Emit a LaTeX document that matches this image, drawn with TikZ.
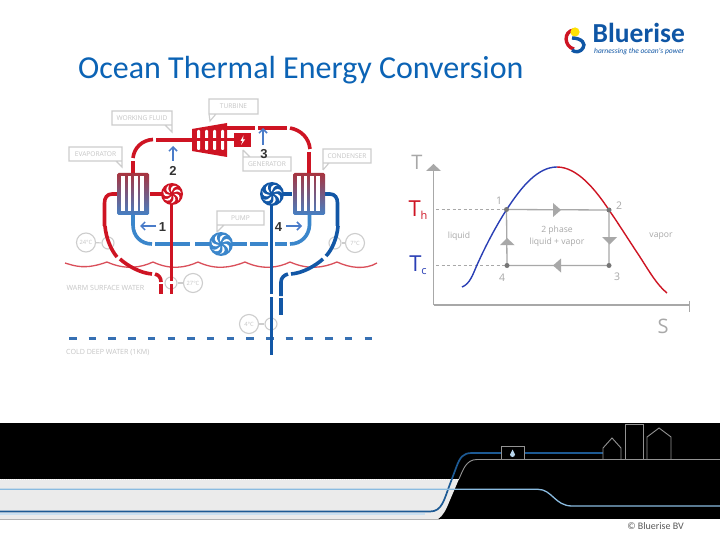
\documentclass[tikz,border=0pt]{standalone}
\usepackage{fontspec}
\setmainfont{Open Sans}
\newfontfamily\titlefont{Carlito}
\newfontfamily\numfont{Liberation Sans}
\usetikzlibrary{arrows.meta,calc}
\definecolor{pipered}{HTML}{CE1423}
\definecolor{pipeblue}{HTML}{1257A6}
\definecolor{lightpipe}{HTML}{3B86CB}
\definecolor{arrowblue}{HTML}{4A7CC9}
\definecolor{calloutgray}{HTML}{CDCDCD}
\definecolor{cyclegray}{HTML}{A8A8A8}
\definecolor{titleblue}{HTML}{0B63B5}
\definecolor{logoblue}{HTML}{0F56A5}
\definecolor{banblue}{HTML}{8ABBE0}
\definecolor{bandark}{HTML}{1D5A94}
\definecolor{curveblue}{HTML}{2A3FB5}
\definecolor{hxtop}{HTML}{A8343F}
\definecolor{hxbot}{HTML}{4580C4}
\tikzset{
  redpipe/.style={draw=pipered,line width=3.6pt},
  bluepipe/.style={draw=pipeblue,line width=3.6pt},
  lightloop/.style={draw=lightpipe,line width=3.6pt},
  callout/.style={draw=calloutgray,line width=1.1pt,fill=white},
  calltext/.style={text=calloutgray!90!gray,font=\fontsize{6.6}{7}\selectfont,inner sep=0pt},
  gauge/.style={circle,draw=calloutgray,line width=1.1pt,minimum size=19pt,inner sep=0pt,text=calloutgray!90!gray,font=\fontsize{5.8}{6}\selectfont},
  tap/.style={circle,draw=calloutgray,line width=1.1pt,minimum size=12pt,inner sep=0pt},
  gaugelink/.style={draw=calloutgray,line width=1.1pt},
  stepnum/.style={text=black!80,font=\numfont\bfseries\fontsize{13}{13}\selectfont,inner sep=0pt},
  flow/.style={draw=arrowblue,line width=1.5pt,-{Straight Barb[length=4pt,width=8pt]}},
  cycle line/.style={draw=cyclegray,line width=1.3pt},
  cycle dash/.style={draw=cyclegray,line width=0.8pt,dash pattern=on 3pt off 2.5pt},
  cyclemark/.style={fill=cyclegray!70!black,circle,inner sep=0pt,minimum size=5pt},
  tslabel/.style={text=cyclegray,font=\fontsize{8.6}{9}\selectfont,inner sep=0pt},
  tsnum/.style={text=cyclegray,font=\fontsize{10.5}{11}\selectfont,inner sep=0pt},
  tsaxis/.style={text=cyclegray,font=\fontsize{20}{20}\selectfont,inner sep=0pt},
  bldg/.style={draw=gray!85,line width=0.9pt},
}
\newcommand{\hxbox}[2]{% x-left, y-top
  \shade[rounded corners=1.5pt,top color=hxtop,bottom color=hxbot] (#1,#2) rectangle ++(32,42);
  \foreach \k in {0,1,2,3}{\fill[white] ({#1+4.4+\k*6.3},{#2+3.5}) rectangle ++(3.6,35);}
}
\newcommand{\pumpblades}[2]{% centre name, radius
  \foreach \a in {0,51.4,102.8,154.2,205.6,257,308.4}{
    \fill[white] ($(#1)+(\a:#2*0.2)$) .. controls ($(#1)+(\a+25:#2*0.5)$) and ($(#1)+(\a+25:#2*0.7)$) .. ($(#1)+(\a+45:#2*0.85)$) .. controls ($(#1)+(\a+10:#2*0.85)$) and ($(#1)+(\a-8:#2*0.55)$) .. cycle;
  }
}
\begin{document}
\begin{tikzpicture}[x=1pt,y=-1pt]
\useasboundingbox (0,0) rectangle (720,540);
\fill[white] (0,0) rectangle (720,540);
% title and logo
\node[anchor=base west,inner sep=0pt,text=titleblue,font=\titlefont\fontsize{32}{33}\selectfont] (title) at (78,79) {Ocean Thermal Energy Conversion};
\draw[pipered,line width=3.4pt] (574,30) .. controls (563,31) and (564,47) .. (574,49);
\fill[yellow!85!orange] (575,32) circle (4.6);
\draw[logoblue,line width=3.4pt] (572,38) .. controls (582,38) and (586,44) .. (583,48) .. controls (581,52) and (575,53) .. (572,50);
\node[anchor=base west,inner sep=0pt,text=logoblue,font=\titlefont\bfseries\fontsize{27.5}{28}\selectfont] (logoname) at (592.5,43) {Bluerise};
\node[anchor=base west,inner sep=0pt,text=logoblue,font=\titlefont\itshape\fontsize{7.5}{8}\selectfont] (logotag) at (594,54) {harnessing the ocean's power};
% sea surface and deep water
\draw[pipered!75!white,line width=1.3pt] (65,263) .. controls (75,266) and (85,270) .. (107,262) .. controls (125,270) and (140,268) .. (153,262) .. controls (170,270) and (185,268) .. (198,262) .. controls (215,270) and (230,268) .. (245,262) .. controls (262,270) and (278,268) .. (290,262) .. controls (308,270) and (323,268) .. (337,262) .. controls (350,268) and (365,270) .. (377,263);
\draw[pipeblue!85!white,line width=2.2pt,dash pattern=on 7.5pt off 12.2pt] (69,338.5) -- (375,338.5);
% gauges
\node[gauge] (g24) at (86,242.5) {24°C};
\node[tap] (t24) at (108,243) {};
\draw[gaugelink] (g24) -- (t24);
\node[gauge] (g7) at (355,243) {7°C};
\node[tap] (t7) at (335,243) {};
\draw[gaugelink] (g7) -- (t7);
\node[gauge] (g27) at (193,283) {27°C};
\node[tap] (t27) at (171,283) {};
\draw[gaugelink] (g27) -- (t27);
\node[gauge] (g4) at (249,324) {4°C};
\node[tap] (t4) at (271,324) {};
\draw[gaugelink] (g4) -- (t4);
% callouts
\draw[callout] (112,111) rectangle (172,125) (165,125) -- (172,132) -- (172,125);
\node[calltext] (lwf) at (142,118) {WORKING FLUID};
\draw[callout] (69,147) rectangle (122,161) (116,161) -- (122,167) -- (122,161);
\node[calltext] (lev) at (95.5,154) {EVAPORATOR};
\draw[callout] (209,99) rectangle (258,114) (216,114) -- (210,121) -- (209,114);
\node[calltext] (ltu) at (233.5,106.5) {TURBINE};
\draw[callout] (243,157) rectangle (291,171) (243,150) -- (250,157) (243,150) -- (243,157);
\node[calltext] (lge) at (267,164) {GENERATOR};
\draw[callout] (323,149) rectangle (371,163) (323,170) -- (329,163) (323,170) -- (323,163);
\node[calltext] (lco) at (347,156) {CONDENSER};
\draw[callout] (217,211) rectangle (264,225) (217,232) -- (224,225) (217,232) -- (217,225);
\node[calltext] (lpu) at (240.5,218) {PUMP};
% water labels
\node[calltext,anchor=west,font=\fontsize{7.1}{8}\selectfont] (lwarm) at (66.5,288) {WARM SURFACE WATER};
\node[calltext,anchor=west,font=\fontsize{7.1}{8}\selectfont] (lcold) at (66,352) {COLD DEEP WATER (1KM)};
% warm water circuit
\draw[redpipe] (117,194) -- (112,194) .. controls (107,194) and (104.5,198) .. (104.5,203) -- (104.5,226);
\draw[redpipe] (105,226) .. controls (106,238) and (111,250) .. (117,257);
\draw[redpipe] (120,259) .. controls (128,266) and (140,273) .. (152,274);
\draw[redpipe] (155,274) .. controls (159,275) and (161,278) .. (161,282);
\draw[redpipe] (161,284) -- (161,294);
% cold water circuit
\draw[bluepipe] (325,194) -- (330,194) .. controls (335,194) and (337.5,198) .. (337.5,203) -- (337.5,226);
\draw[bluepipe] (338,226) .. controls (337,238) and (332,250) .. (326,256);
\draw[bluepipe] (323,259) .. controls (315,266) and (303,273) .. (291,274);
\draw[bluepipe] (288,274) .. controls (284,275) and (281,278) .. (281,282) -- (281,296);
\draw[bluepipe] (281,298) -- (281,315);
% working fluid loop
\draw[lightloop] (133,215) -- (133,225) .. controls (133,236) and (141,244) .. (152,244);
\draw[lightloop] (155,244) -- (190,244) (195,244) -- (210,244) (232,244) -- (247,244) (250,244) -- (268,244) (275,244) -- (287,244);
\draw[lightloop] (290,244) .. controls (301,244) and (309,236) .. (309.5,225) -- (309.5,215);
\draw[redpipe] (133,173) -- (133,161);
\draw[redpipe] (133,158) .. controls (134,148) and (142,140) .. (153,139.5);
\draw[redpipe] (156,140) -- (195,140);
\draw[redpipe] (225,128) -- (255,128);
\draw[redpipe] (258,128) -- (287,128);
\draw[redpipe] (290,128) .. controls (301,130) and (309,138) .. (310,149);
\draw[redpipe] (309,152) -- (309,173);
% heat exchangers
\hxbox{117}{173}
\hxbox{293}{173}
% pumps
\draw[redpipe] (150,194) -- (163,194);
\draw[redpipe] (171.5,200) -- (171.5,281);
\draw[redpipe] (171.5,284) -- (171.5,294);
\fill[pipered] (172,194) circle (11) coordinate (pumpA);
\pumpblades{pumpA}{11}
\draw[bluepipe] (281,194) -- (292,194);
\draw[bluepipe] (271.5,200) -- (271.5,294);
\draw[bluepipe] (271.5,297) -- (271.5,355);
\fill[pipeblue] (272,194) circle (12) coordinate (pumpB);
\pumpblades{pumpB}{12}
\fill[lightpipe] (221,244) circle (12) coordinate (pumpC);
\pumpblades{pumpC}{12}
% turbine
\fill[pipered] (192,129) -- (227,123) -- (227,157) -- (192,151) -- cycle;
\foreach \x in {197,205,213,221}{\fill[white,rounded corners=1pt] (\x,130) rectangle ++(3,20);}
\fill[pipered] (192,138.5) rectangle (227,141.5);
% generator
\fill[pipered] (234,133) rectangle (251,147);
\draw[redpipe,line width=2.6pt] (227,139.5) -- (234,139.5);
\fill[white] (243.5,135.5) -- (240.5,141) -- (242.5,141) -- (241,145) -- (245,139.5) -- (243,139.5) -- cycle;
% numbered arrows
\node[stepnum] (n1) at (162.5,227.5) {1};
\node[stepnum] (n2) at (173,171) {2};
\node[stepnum] (n3) at (264,154) {3};
\node[stepnum] (n4) at (278.5,227.5) {4};
\coordinate (a1s) at (156,226); \coordinate (a1e) at (140,226);
\coordinate (a2s) at (173,161); \coordinate (a2e) at (173,146);
\coordinate (a3s) at (263,145); \coordinate (a3e) at (263,128);
\coordinate (a4s) at (286,226); \coordinate (a4e) at (302,226);
\draw[flow] (a1s) -- (a1e);
\draw[flow] (a2s) -- (a2e);
\draw[flow] (a3s) -- (a3e);
\draw[flow] (a4s) -- (a4e);
% T-s diagram
\coordinate (origin) at (433.5,305);
\coordinate (tip) at (433.5,164);
\coordinate (send) at (689,305);
\draw[cycle line] (origin) -- (433.5,170);
\fill[cyclegray] (tip) -- (441,171) -- (426,171) -- cycle;
\draw[cycle line] (origin) -- (send);
\draw[cycle line,line width=0.9pt] (689,301) -- (689,312);
\node[tsaxis] (axT) at (417,162) {T};
\node[tsaxis] (axS) at (663,326) {S};
\node[anchor=base,inner sep=0pt,font=\fontsize{22}{22}\selectfont,text=pipered] (Th) at (418,216) {T\raisebox{-3pt}{\fontsize{11}{11}\selectfont h}};
\node[anchor=base,inner sep=0pt,font=\fontsize{22}{22}\selectfont,text=curveblue] (Tc) at (418,271) {T\raisebox{-3pt}{\fontsize{11}{11}\selectfont c}};
\coordinate (p1) at (506.5,209.5);
\coordinate (p2) at (609,210);
\coordinate (p3) at (609,265.5);
\coordinate (p4) at (507,265.5);
\coordinate (dh) at (436,209.5);
\coordinate (dc) at (436,265.5);
\draw[cycle dash] (dh) -- (p1);
\draw[cycle dash] (dc) -- (p4);
\draw[cycle line] (p1) -- (p2) -- (p3) -- (p4) -- cycle;
\fill[cyclegray] (561,210) -- (553,203) -- (553,217) -- cycle;
\fill[cyclegray] (609.5,244.5) -- (602,237) -- (617,237) -- cycle;
\fill[cyclegray] (553,265.5) -- (561,258.5) -- (561,272.5) -- cycle;
\fill[cyclegray] (507,238) -- (500,245) -- (514.5,245) -- cycle;
\draw[curveblue,line width=1.4pt] (462,287) .. controls (470,284) and (473,274) .. (477,265) .. controls (486,245) and (496,226) .. (507,209) .. controls (522,186) and (538,167) .. (557,167);
\draw[pipered,line width=1.4pt] (557,167) .. controls (577,167) and (595,189) .. (609,210) .. controls (620,226) and (630,242) .. (640,257) .. controls (649,271) and (657,285) .. (667,293);
\node[cyclemark] (m1) at (p1) {};
\node[cyclemark] (m2) at (p2) {};
\node[cyclemark] (m3) at (p3) {};
\node[cyclemark] (m4) at (p4) {};
\node[tsnum] (l1) at (499,201) {1};
\node[tsnum] (l2) at (619,206) {2};
\node[tsnum] (l3) at (617,277) {3};
\node[tsnum] (l4) at (502,277.5) {4};
\node[tslabel] (tliq) at (459,236) {liquid};
\node[tslabel] (tvap) at (661,236) {vapor};
\node[tslabel] (t2p) at (557,230) {2 phase};
\node[tslabel] (tlv) at (557,242.5) {liquid + vapor};
% bottom banner
\fill[black] (0,423.3) rectangle (720,519);
\fill[black!8] (0,479) -- (459,479) -- (450,500) .. controls (446,510) and (443,516) .. (438,519) -- (0,519) -- cycle;
\draw[white,line width=0.7pt,dash pattern=on 1pt off 1pt] (0,479) -- (459,479);
\draw[gray!60,line width=0.7pt] (0,519) -- (440,519);
\draw[banblue!45,line width=2pt] (0,513.5) -- (425,513.5);
\draw[gray!85,line width=0.9pt] (459,479) .. controls (463,470) and (466,459.5) .. (477,459.5) -- (720,459.5);
\draw[bandark,line width=1.7pt] (0,511.5) -- (430,511.5) .. controls (442,511.5) and (444,500) .. (450,484) -- (456,468) .. controls (460,457) and (463,453) .. (472,453) -- (501,453);
\draw[bandark,line width=1.7pt] (524,453) -- (603,453);
\draw[banblue,line width=1.3pt] (0,489.3) -- (538,489.3) .. controls (552,489.3) and (555,506) .. (572,506) -- (720,506);
\draw[gray!85,line width=0.9pt] (501,459) -- (501,446) -- (524,446) -- (524,459);
\fill[banblue!60!white] (512.5,449.5) -- (515,454.5) arc[start angle=0,end angle=180,radius=2.5] -- cycle;
\draw[bldg] (603,459) -- (603,448) -- (612,438) -- (621,448) -- (621,459);
\draw[bldg] (625,459) -- (625,424) -- (643,424) -- (643,459);
\draw[bldg] (647,459) -- (647,437) -- (659,428) -- (671,437) -- (671,459);
\node[anchor=center,inner sep=0pt,text=black!65,font=\titlefont\fontsize{10}{11}\selectfont] (copy) at (655.5,526.5) {© Bluerise BV};
\end{tikzpicture}
\end{document}
